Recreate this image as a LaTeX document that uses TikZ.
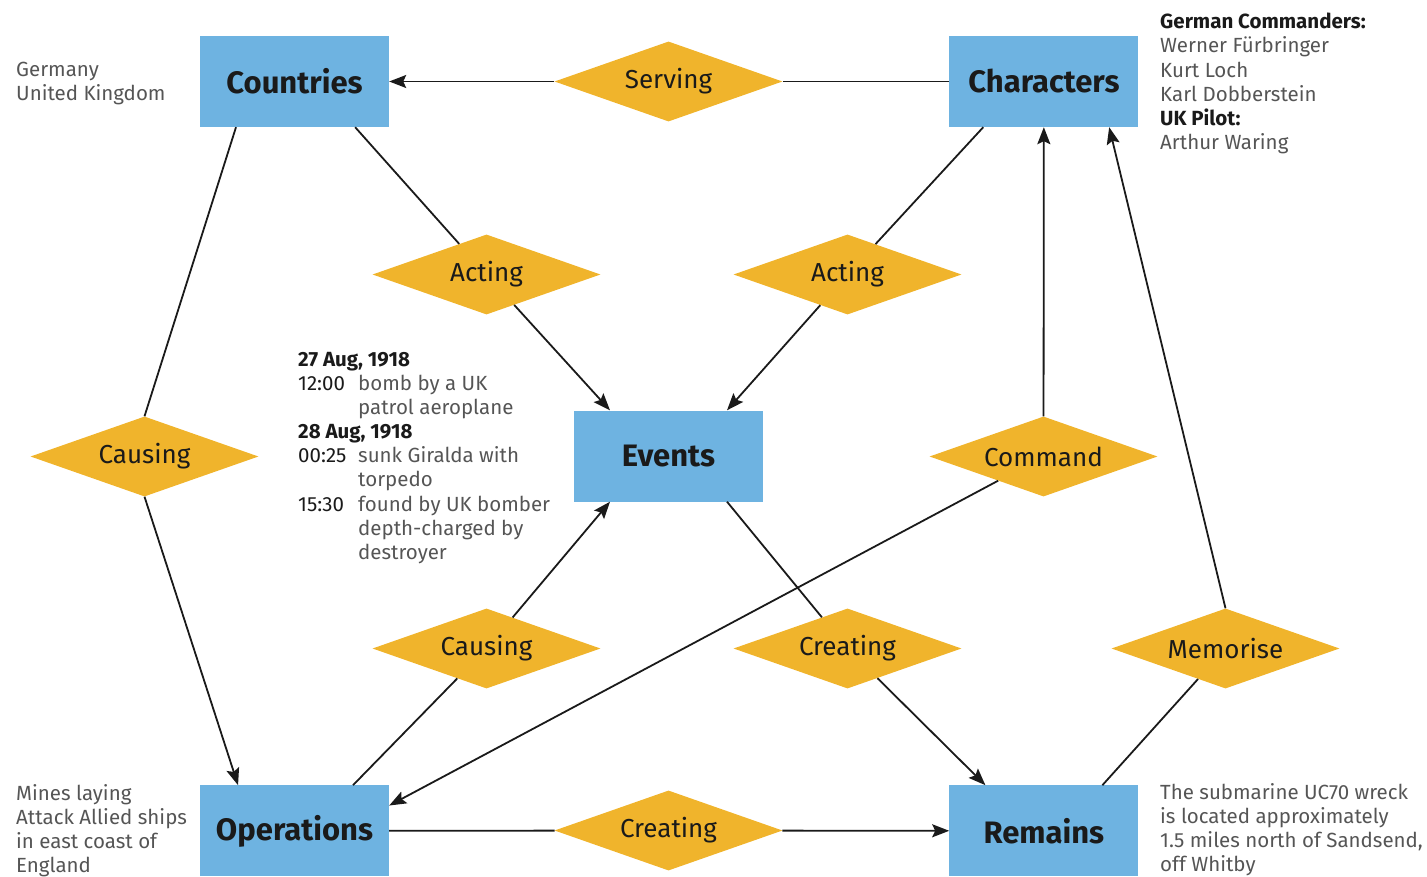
\documentclass[tikz,border=0pt]{standalone}
\usepackage{fontspec}
\setmainfont{Fira Sans}
\usetikzlibrary{positioning,shapes.geometric,arrows.meta}
\definecolor{boxblue}{HTML}{6EB3E1}
\definecolor{gold}{HTML}{F0B42C}
\definecolor{note}{HTML}{555555}
\definecolor{ink}{HTML}{1A1A1A}

\begin{document}
\begin{tikzpicture}[x=1pt, y=-1pt,
		b/.style={rectangle, fill=boxblue, minimum width=189pt, minimum height=91pt, inner sep=0pt, text=ink, font=\fontsize{31}{34}\selectfont\bfseries},
		d/.style={diamond, fill=gold, aspect=2.85, minimum width=228pt, minimum height=80pt, inner sep=0pt, text=ink, font=\fontsize{26}{29}\selectfont},
		tl/.style={inner sep=0pt, text=note, font=\fontsize{20.5}{24.2}\selectfont},
		t/.style={tl, align=left, anchor=north west},
		l/.style={line width=1.8pt, color=ink},
		>={Stealth[length=17pt, width=13pt, inset=3pt]}]
		\useasboundingbox (0,0) rectangle (1427,877);

		\node[b] (countries) at (294.5,81.5) {Countries};
		\node[b, right=560pt of countries] (characters) {Characters};
		\node[b] (events) at (668.5,456) {Events};
		\node[b, below=658pt of countries] (operations) {Operations};
		\node[b, right=560pt of operations] (remains) {Remains};

		\node[d] (serving) at (668.5,81.5) {Serving};
		\node[d] (actl) at (486.5,274.5) {Acting};
		\node[d] (actr) at (847.5,274.5) {Acting};
		\node[d] (causl) at (144.5,456.5) {Causing};
		\node[d] (command) at (1043.5,456.5) {Command};
		\node[d] (causb) at (486.5,648.5) {Causing};
		\node[d] (crem) at (847.5,648.5) {Creating};
		\node[d] (memo) at (1225.5,648.5) {Memorise};
		\node[d] (creb) at (668.5,830.5) {Creating};

		\node[t] (cntinfo) at (16,62) {Germany\\United Kingdom};
		\node[t] (chrinfo) at (1160,13) {{\color{ink}\bfseries German Commanders:}\\Werner Fürbringer\\Kurt Loch\\Karl Dobberstein\\{\color{ink}\bfseries UK Pilot:}\\Arthur Waring};
		\node[tl, anchor=base west] (evtinfo) at (298,366) {\begin{tabular}[t]{@{}p{60pt}@{}l@{}}
			\multicolumn{2}{@{}l@{}}{\color{ink}\bfseries 27 Aug, 1918}\\
			\leavevmode\color{ink}12:00 & bomb by a UK\\
			 & patrol aeroplane\\
			\multicolumn{2}{@{}l@{}}{\color{ink}\bfseries 28 Aug, 1918}\\
			\leavevmode\color{ink}00:25 & sunk Giralda with\\
			 & torpedo\\
			\leavevmode\color{ink}15:30 & found by UK bomber\\
			 & depth-charged by\\
			 & destroyer
		\end{tabular}};
		\node[t] (opsinfo) at (16,784) {Mines laying\\Attack Allied ships\\in east coast of\\England};
		\node[t] (reminfo) at (1160,783) {The submarine UC70 wreck\\is located approximately\\1.5 miles north of Sandsend,\\off Whitby};

		\path[l] (characters) edge (serving);
		\path[l, ->] (serving) edge (countries);
		\path[l] (countries.-37) edge (actl);
		\path[l, ->] (actl) edge (events.142);
		\path[l] (characters.-143) edge (actr);
		\path[l, ->] (actr) edge (events.38);
		\path[l] (countries.-142) edge (causl.north);
		\path[l, ->] (causl.south) edge (operations.141);
		\path[l] (operations.38) edge (causb);
		\path[l, ->] (causb) edge (events.-142);
		\path[l] (events.-38) edge (crem);
		\path[l, ->] (crem) edge (remains.142);
		\path[l] (remains.38) edge (memo);
		\path[l, ->] (memo.north) edge (characters.-35);
		\path[l, ->] (command) edge (characters);
		\path[l, ->] (command) edge (operations.15);
		\path[l] (operations) edge (creb);
		\path[l, ->] (creb) edge (remains);
	\end{tikzpicture}
\end{document}
